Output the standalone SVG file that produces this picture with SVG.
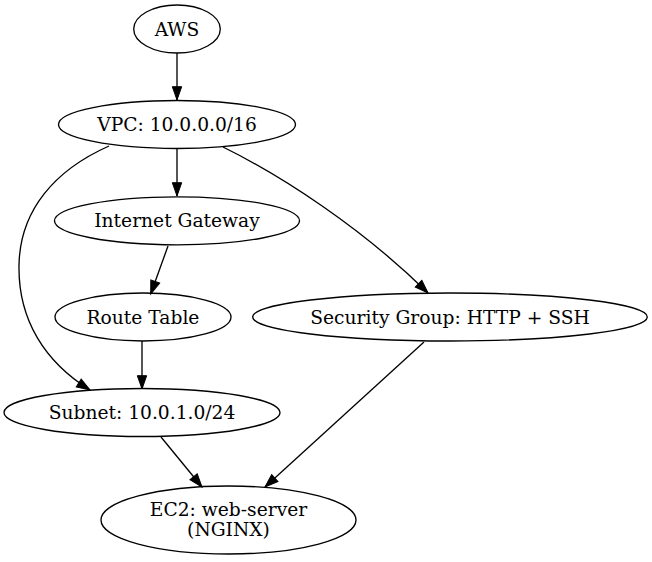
<svg xmlns="http://www.w3.org/2000/svg" width="652" height="562" viewBox="0 0 652 562">
<defs>
<style>
.node ellipse{fill:none;stroke:#000;stroke-width:1.33}
.node text{font-family:"DejaVu Serif",serif;font-size:18.67px;fill:#000;text-anchor:middle}
.edge{fill:none;stroke:#000;stroke-width:1.33}
</style>
<marker id="arr" markerUnits="userSpaceOnUse" markerWidth="16" markerHeight="12" refX="13.3" refY="5" orient="auto" viewBox="-1 0 16 10">
<path d="M0,0.33 L13.3,5 L0,9.67 z" fill="#000" stroke="#000" stroke-width="1"/>
</marker>
</defs>
<rect width="652" height="562" fill="#fff"/>
<g id="edges">
<path class="edge" d="M177,53 L177,100" marker-end="url(#arr)"/>
<path class="edge" d="M177,149 L177,196" marker-end="url(#arr)"/>
<path class="edge" d="M109,146 C55,170 20,210 19,265 C18,320 45,362 90,390" marker-end="url(#arr)"/>
<path class="edge" d="M223,147 C282,176 362,228 428,293" marker-end="url(#arr)"/>
<path class="edge" d="M168,246 L150.7,294" marker-end="url(#arr)"/>
<path class="edge" d="M142,341 L142,389" marker-end="url(#arr)"/>
<path class="edge" d="M161,437 L202,487" marker-end="url(#arr)"/>
<path class="edge" d="M424,342 L265,487" marker-end="url(#arr)"/>
</g>
<g id="aws" class="node"><ellipse cx="177" cy="29" rx="43.3" ry="24"/><text x="177" y="35.5">AWS</text></g>
<g id="vpc" class="node"><ellipse cx="177" cy="124.5" rx="118.5" ry="24"/><text x="177" y="131">VPC: 10.0.0.0/16</text></g>
<g id="igw" class="node"><ellipse cx="177" cy="220.8" rx="122.5" ry="24"/><text x="177" y="227.3">Internet Gateway</text></g>
<g id="rt" class="node"><ellipse cx="143" cy="317" rx="88" ry="24"/><text x="143" y="323.5">Route Table</text></g>
<g id="sg" class="node"><ellipse cx="450" cy="317" rx="197.3" ry="24"/><text x="450" y="323.5">Security Group: HTTP + SSH</text></g>
<g id="subnet" class="node"><ellipse cx="142" cy="412.5" rx="138" ry="24"/><text x="142" y="419">Subnet: 10.0.1.0/24</text></g>
<g id="ec2" class="node"><ellipse cx="228.5" cy="520" rx="127.5" ry="34"/><text x="228.5" y="516">EC2: web-server</text><text x="228.5" y="536">(NGINX)</text></g>
</svg>
